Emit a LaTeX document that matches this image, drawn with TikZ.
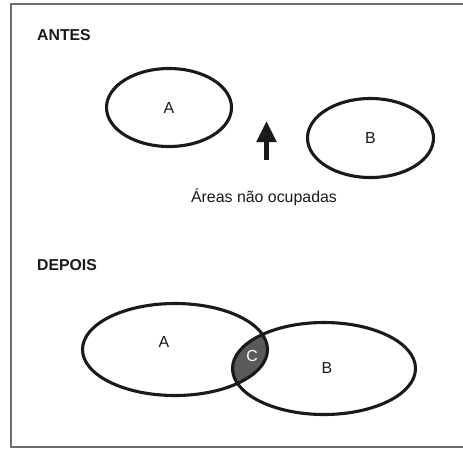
\documentclass[tikz,border=0pt]{standalone}
\usepackage{fontspec}
\setmainfont{Liberation Sans}
\usetikzlibrary{shapes.geometric,arrows.meta}
\definecolor{ink}{HTML}{1A1A1A}
\definecolor{frame}{HTML}{6E6E6E}
\definecolor{overlap}{HTML}{5A5A5A}
\tikzset{
  setshape/.style={ellipse,draw=ink,line width=3.1pt,inner sep=0pt,font=\fontsize{16}{18}\selectfont,text=ink},
  heading/.style={anchor=west,font=\fontsize{15.8}{18}\selectfont\bfseries,text=ink,inner sep=0pt},
  caption/.style={font=\fontsize{15.9}{18}\selectfont,text=ink,inner sep=0pt},
}
\begin{document}
\begin{tikzpicture}[x=1pt,y=-1pt]
\useasboundingbox (0,0) rectangle (463,448);
\draw[frame,line width=1.6pt] (463,4) -- (11,4) -- (11,447) -- (463,447);

% ANTES
\node[heading] (antes) at (37,35) {ANTES};
\node[setshape,minimum width=125pt,minimum height=78pt] (a1) at (169,107.5) {A};
\node[setshape,minimum width=126pt,minimum height=79pt] (b1) at (370.5,138) {B};
\node[caption] (areas) at (264,197) {Áreas não ocupadas};
\coordinate (arrowfoot) at (266.5,160);
\coordinate (arrowtip) at (266.5,121);
\draw[ink,line width=5pt,-{Triangle[width=19pt,length=21pt]}] (arrowfoot) -- (arrowtip);

% DEPOIS
\node[heading] (depois) at (37,265) {DEPOIS};
\begin{scope}
  \clip (175,349.5) ellipse [x radius=92.5, y radius=46];
  \fill[overlap] (324,368.5) ellipse [x radius=91.5, y radius=46];
\end{scope}
\node[setshape,minimum width=185pt,minimum height=92pt] (a2) at (175,349.5) {};
\node[setshape,minimum width=183pt,minimum height=92pt] (b2) at (324,368.5) {};
\node[caption] (la) at (164,342) {A};
\node[caption] (lb) at (327,368) {B};
\node[caption,text=white] (lc) at (252,356) {C};
\end{tikzpicture}
\end{document}
